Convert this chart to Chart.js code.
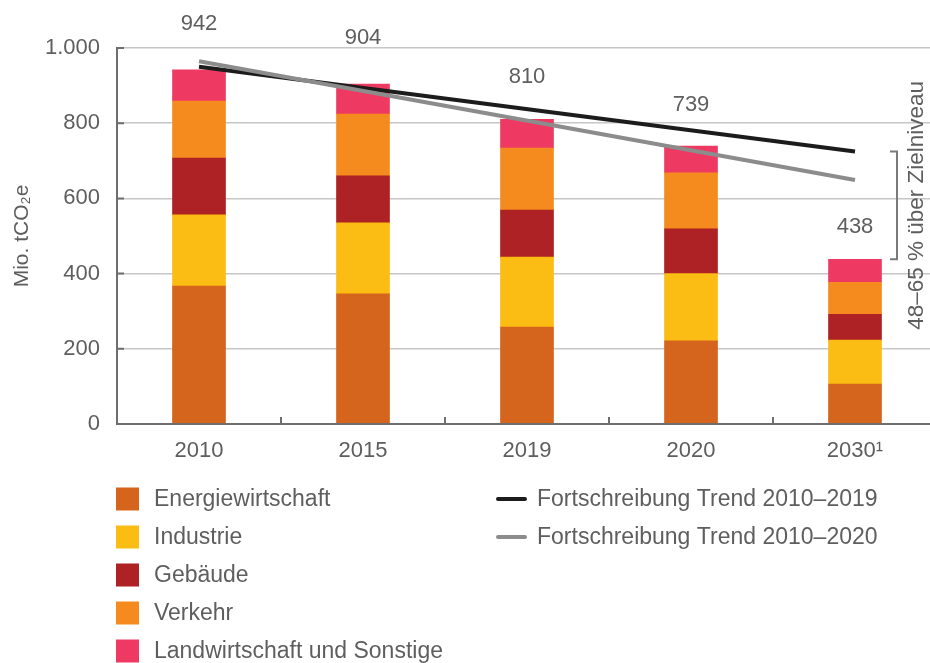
<!DOCTYPE html>
<html lang="de">
<head>
<meta charset="utf-8">
<title>Emissionen nach Sektoren</title>
<script src="https://cdn.jsdelivr.net/npm/chart.js@4"></script>
<style>
  html, body { margin: 0; padding: 0; background: #fff; overflow: hidden; }
  #wrap { position: relative; width: 937px; height: 663px; }
</style>
</head>
<body>
<div id="wrap"><canvas id="myChart"></canvas></div>
<script>
// Daten (Mio. t CO2e)
var years = ['2010', '2015', '2019', '2020', '2030\u00B9'];
var energie = [367, 346, 258, 221, 106];
var industrie = [189, 189, 186, 179, 117];
var gebaeude = [151, 125, 125, 119, 69];
var verkehr = [152, 164, 165, 149, 85];
var landwirtschaft = [83, 80, 76, 71, 61];
var totals = [942, 904, 810, 739, 438];
var trend2019 = [950, null, null, null, 725];
var trend2020 = [965, null, null, null, 649];
var yTicks = ['0', '200', '400', '600', '800', '1.000'];
var bracketText = '48\u201365 % \u00FCber Zielniveau';

var FONT = '"Liberation Sans", Arial, Helvetica, sans-serif';
var TEXT = '#5e5e5e';
var AXIS = '#6e6e6e';

function barSet(label, data, color) {
    return {
        type: 'bar',
        label: label,
        data: data,
        backgroundColor: color,
        borderWidth: 0,
        barThickness: 53,
        stack: 'sektoren',
        order: 2
    };
}

function lineSet(label, data, color, order) {
    return {
        type: 'line',
        label: label,
        data: data,
        borderColor: color,
        backgroundColor: color,
        borderWidth: 4,
        pointRadius: 0,
        spanGaps: true,
        tension: 0,
        stack: label,
        order: order
    };
}

// Achsen, Summen, Klammer und Legende
var overlay = {
    id: 'overlay',
    afterDatasetsDraw: function (chart) {
        var ctx = chart.ctx;
        var a = chart.chartArea;
        var x = chart.scales.x;
        var y = chart.scales.y;
        ctx.save();

        ctx.strokeStyle = AXIS;
        ctx.lineWidth = 2;
        ctx.beginPath();
        ctx.moveTo(a.left, a.top - 1);
        ctx.lineTo(a.left, a.bottom);
        ctx.lineTo(a.right, a.bottom);
        yTicks.forEach(function (t, i) {
            var py = y.getPixelForValue(i * 200);
            ctx.moveTo(a.left, py);
            ctx.lineTo(a.left + 7, py);
        });
        for (var i = 1; i < years.length; i++) {
            var px = (x.getPixelForValue(i - 1) + x.getPixelForValue(i)) / 2;
            ctx.moveTo(px, a.bottom);
            ctx.lineTo(px, a.bottom - 7);
        }
        ctx.stroke();

        // Summen ueber den Balken
        var offsets = [46, 46, 43, 41, 32];
        ctx.fillStyle = TEXT;
        ctx.font = '22px ' + FONT;
        ctx.textAlign = 'center';
        ctx.textBaseline = 'middle';
        totals.forEach(function (v, i) {
            ctx.fillText(String(v), x.getPixelForValue(i), y.getPixelForValue(v) - offsets[i]);
        });

        // Klammer 2030
        var top = y.getPixelForValue(trend2019[4]);
        var bottom = y.getPixelForValue(totals[4]);
        var bx = x.getPixelForValue(4) + 42;
        ctx.strokeStyle = '#7a7a7a';
        ctx.lineWidth = 2;
        ctx.beginPath();
        ctx.moveTo(bx - 7, top);
        ctx.lineTo(bx, top);
        ctx.lineTo(bx, bottom);
        ctx.lineTo(bx - 7, bottom);
        ctx.stroke();

        ctx.save();
        ctx.translate(bx + 20, (top + bottom) / 2);
        ctx.rotate(-Math.PI / 2);
        ctx.fillStyle = TEXT;
        ctx.font = '22.5px ' + FONT;
        ctx.fillText(bracketText, 0, 0);
        ctx.restore();

        ctx.restore();
    },
    afterDraw: function (chart) {
        var ctx = chart.ctx;
        ctx.save();
        ctx.font = '23px ' + FONT;
        ctx.textAlign = 'left';
        ctx.textBaseline = 'middle';
        var bars = 0, lines = 0;
        chart.data.datasets.forEach(function (ds) {
            if (ds.type === 'bar') {
                var cy = 499 + bars * 38;
                ctx.fillStyle = ds.backgroundColor;
                ctx.fillRect(116, cy - 11.5, 23, 23);
                ctx.fillStyle = TEXT;
                ctx.fillText(ds.label, 154, cy + 1);
                bars++;
            } else {
                var ly = 499 + lines * 38;
                ctx.strokeStyle = ds.borderColor;
                ctx.lineWidth = 4;
                ctx.lineCap = 'round';
                ctx.beginPath();
                ctx.moveTo(498, ly);
                ctx.lineTo(525, ly);
                ctx.stroke();
                ctx.fillStyle = TEXT;
                ctx.fillText(ds.label, 537, ly + 1);
                lines++;
            }
        });
        ctx.restore();
    }
};

var ctx = document.getElementById('myChart').getContext('2d');
var chart = new Chart(ctx, {
    data: {
        labels: years,
        datasets: [
            barSet('Energiewirtschaft', energie, '#d5641d'),
            barSet('Industrie', industrie, '#fbbc13'),
            barSet('Geb\u00E4ude', gebaeude, '#ae2124'),
            barSet('Verkehr', verkehr, '#f58b1f'),
            barSet('Landwirtschaft und Sonstige', landwirtschaft, '#ee3a62'),
            lineSet('Fortschreibung Trend 2010\u20132019', trend2019, '#1c1c1c', 1),
            lineSet('Fortschreibung Trend 2010\u20132020', trend2020, '#8c8c8c', 0)
        ]
    },
    options: {
        responsive: true,
        maintainAspectRatio: false,
        animation: false,
        layout: { padding: { top: 48, right: 0, bottom: 0, left: 0 } },
        plugins: {
            legend: { display: false },
            tooltip: { enabled: false }
        },
        scales: {
            x: {
                stacked: true,
                offset: true,
                grid: { display: false, drawTicks: false },
                border: { display: false },
                ticks: {
                    color: TEXT,
                    padding: 14,
                    maxRotation: 0,
                    font: { family: FONT, size: 22 }
                },
                afterFit: function (scale) { scale.height = 239; }
            },
            y: {
                stacked: true,
                min: 0,
                max: 1000,
                grid: { color: '#c6c6c6', lineWidth: 1.5, drawTicks: false },
                border: { display: false },
                ticks: {
                    stepSize: 200,
                    color: TEXT,
                    padding: 17,
                    font: { family: FONT, size: 22 },
                    callback: function (value) { return yTicks[value / 200]; }
                },
                title: {
                    display: true,
                    text: 'Mio. tCO\u2082e',
                    color: TEXT,
                    padding: { top: 10, bottom: 0 },
                    font: { family: FONT, size: 21 }
                },
                afterFit: function (scale) { scale.width = 117; }
            }
        }
    },
    plugins: [overlay]
});
</script>
</body>
</html>
